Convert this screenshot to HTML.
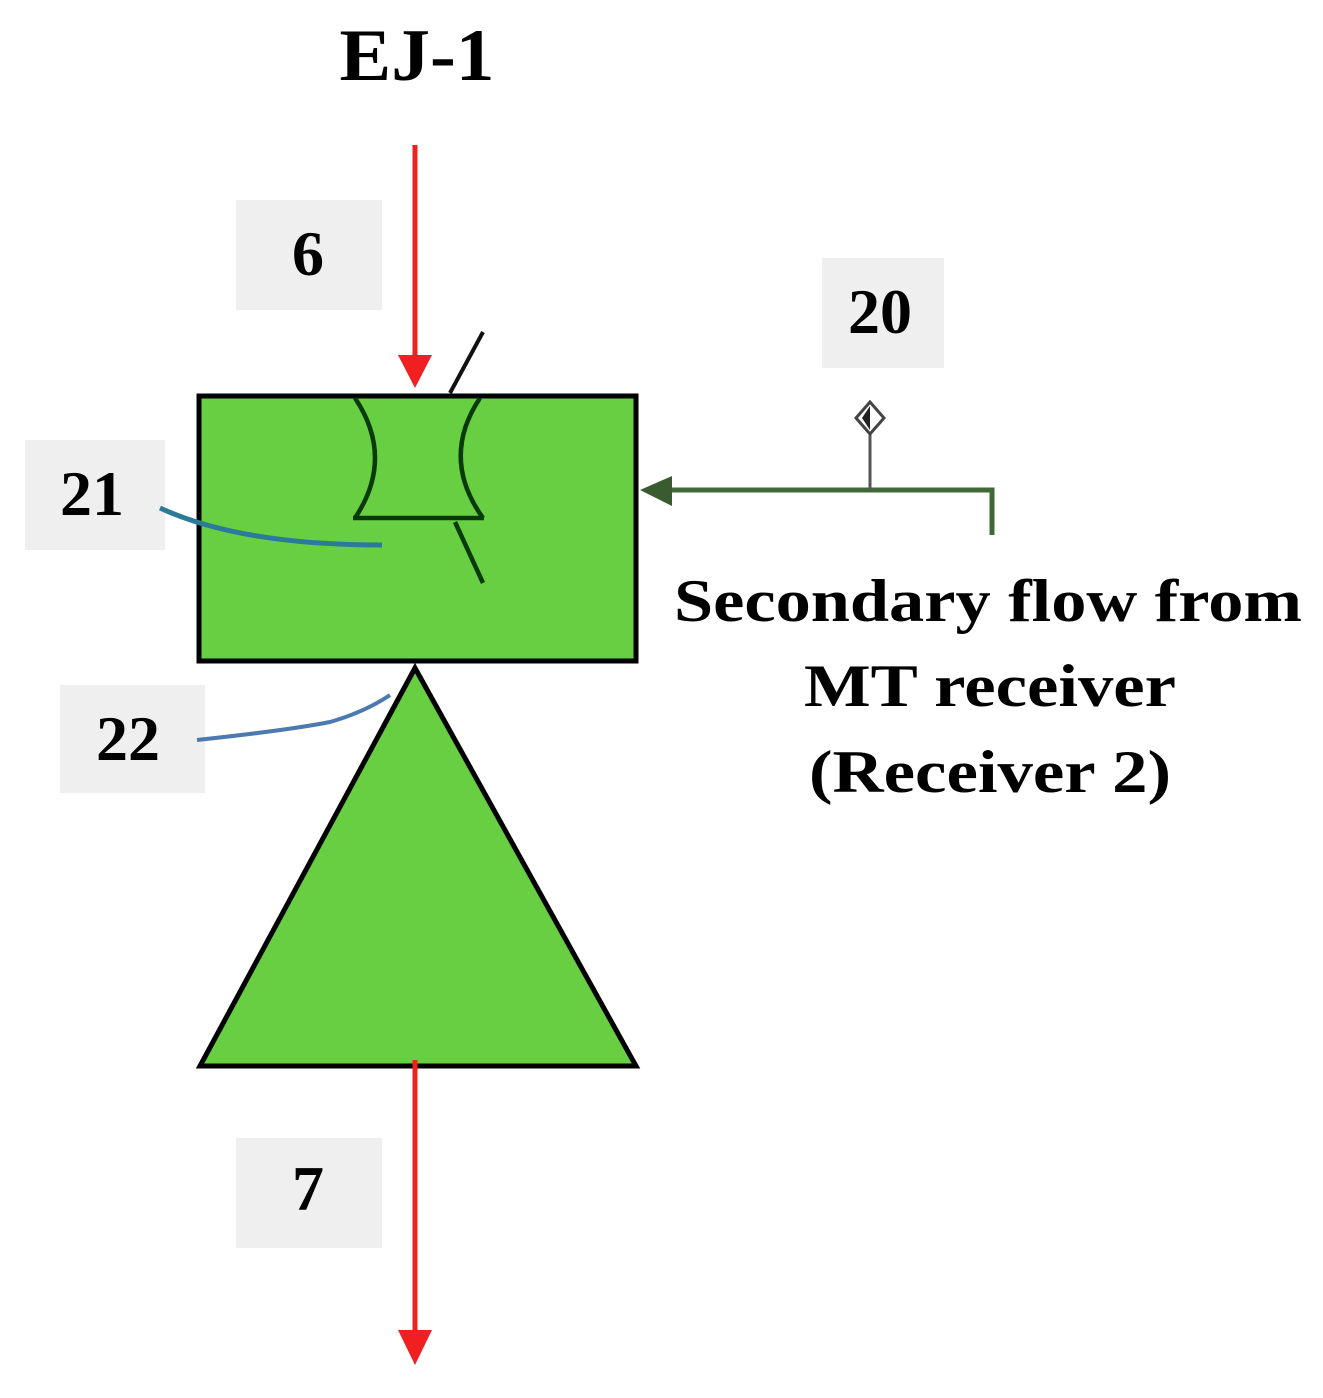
<!DOCTYPE html>
<html><head><style>html,body{margin:0;padding:0;background:#fff}svg{display:block}</style></head>
<body>
<svg width="1323" height="1398" viewBox="0 0 1323 1398" xmlns="http://www.w3.org/2000/svg" font-family="Liberation Serif, serif" font-weight="bold">
<rect x="236" y="200" width="146" height="110" fill="#efefef"/>
<rect x="822" y="258" width="122" height="110" fill="#efefef"/>
<rect x="25" y="440" width="140" height="110" fill="#efefef"/>
<rect x="60" y="685" width="145" height="108" fill="#efefef"/>
<rect x="236" y="1138" width="146" height="110" fill="#efefef"/>
<text x="417" y="80" font-size="74" text-anchor="middle" textLength="155" lengthAdjust="spacingAndGlyphs">EJ-1</text>
<text x="308" y="275" font-size="64" text-anchor="middle">6</text>
<text x="880" y="333" font-size="64" text-anchor="middle">20</text>
<text x="92" y="515" font-size="64" text-anchor="middle">21</text>
<text x="128" y="760" font-size="64" text-anchor="middle">22</text>
<text x="308" y="1210" font-size="64" text-anchor="middle">7</text>
<text x="988" y="621" font-size="60" text-anchor="middle" textLength="628" lengthAdjust="spacingAndGlyphs">Secondary flow from</text>
<text x="990" y="706" font-size="60" text-anchor="middle" textLength="372" lengthAdjust="spacingAndGlyphs">MT receiver</text>
<text x="990" y="792" font-size="60" text-anchor="middle" textLength="362" lengthAdjust="spacingAndGlyphs">(Receiver 2)</text>
<rect x="199" y="396" width="437" height="265" fill="#68cf42" stroke="#000" stroke-width="5"/>
<polygon points="415,668 200,1066 636,1066" fill="#68cf42" stroke="#000" stroke-width="5" stroke-linejoin="miter"/>
<g fill="none" stroke="#0a3a0a" stroke-width="4.5">
<path d="M355,398 Q395,458 355,518"/>
<path d="M480,398 Q440,458 483,518"/>
<line x1="353" y1="518" x2="484" y2="518"/>
<line x1="455" y1="522" x2="483" y2="583"/>
</g>
<line x1="450" y1="393" x2="483" y2="332" stroke="#111" stroke-width="4"/>
<line x1="415" y1="145" x2="415" y2="365" stroke="#f02020" stroke-width="5"/>
<polygon points="398,355 432,355 415,388" fill="#f02020"/>
<line x1="415" y1="1060" x2="415" y2="1340" stroke="#f02020" stroke-width="5"/>
<polygon points="398,1330 432,1330 415,1365" fill="#f02020"/>
<polyline points="992,535 992,490 660,490" fill="none" stroke="#3f6a35" stroke-width="5"/>
<polygon points="640,490 672,476 672,506" fill="#3a5a30"/>
<line x1="870" y1="490" x2="870" y2="432" stroke="#555" stroke-width="3"/>
<polygon points="870,402 884,418 870,434 856,418" fill="#fff" stroke="#444" stroke-width="3"/>
<polygon points="870,406 862,418 870,430" fill="#222"/>
<path d="M160,508 Q240,545 382,545" fill="none" stroke="#2a7a9a" stroke-width="5"/>
<path d="M197,740 Q290,730 330,722 Q365,712 390,695" fill="none" stroke="#4a7ab0" stroke-width="4"/>
</svg>
</body></html>
